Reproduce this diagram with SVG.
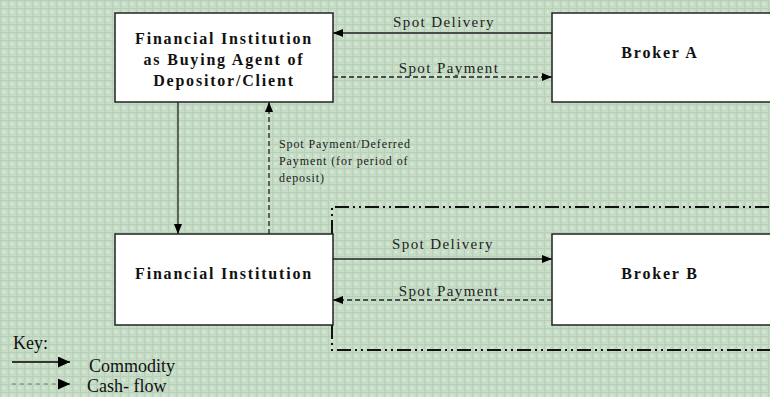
<svg xmlns="http://www.w3.org/2000/svg" width="770" height="397" viewBox="0 0 770 397">
  <defs>
    <pattern id="bg" width="8" height="8" patternUnits="userSpaceOnUse">
      <rect width="8" height="8" fill="#c6dcc6"/>
      <path d="M0 0.5H8M0.5 0V8" stroke="#b6d1b7" stroke-width="1"/>
      <path d="M4 2.5V5.5M2.5 4H5.5" stroke="#e0ede0" stroke-width="1"/>
    </pattern>
    <marker id="ah" viewBox="0 0 10 8" refX="10" refY="4" markerWidth="10" markerHeight="8" markerUnits="userSpaceOnUse" orient="auto">
      <path d="M0 0L10 4L0 8Z" fill="#000"/>
    </marker>
    <marker id="ahk" viewBox="0 0 12 11" refX="12" refY="5.5" markerWidth="12" markerHeight="11" markerUnits="userSpaceOnUse" orient="auto">
      <path d="M0 0L12 5.5L0 11Z" fill="#000"/>
    </marker>
  </defs>
  <style>
    .box { fill: #fff; stroke: #222; stroke-width: 1.5; }
    .lbl { font-family: "Liberation Serif", serif; font-weight: bold; font-size: 16px; letter-spacing: 1.8px; fill: #111; text-anchor: middle; }
    .elbl { font-family: "Liberation Serif", serif; font-size: 15px; letter-spacing: 1.4px; fill: #222; text-anchor: middle; }
    .note { font-family: "Liberation Serif", serif; font-size: 12px; letter-spacing: 0.9px; fill: #222; }
    .key { font-family: "Liberation Serif", serif; font-size: 18px; fill: #111; }
    .solid { stroke: #222; stroke-width: 1.3; fill: none; }
    .dash { stroke: #222; stroke-width: 1.3; fill: none; stroke-dasharray: 5 3; }
  </style>

  <rect width="770" height="397" fill="url(#bg)"/>

  <!-- dash-dot enclosure around Broker B -->
  <g id="enclosure">
    <path d="M332 234V207H770M332 325V350H770" fill="none" stroke="#111" stroke-width="2" stroke-dasharray="14 4 2 4 2 4"/>
  </g>

  <g id="connectors">
    <path class="solid" d="M552 33H333" marker-end="url(#ah)"/>
    <path class="dash" d="M333 77H552" marker-end="url(#ah)"/>
    <path class="solid" d="M178 102V234" marker-end="url(#ah)"/>
    <path class="dash" d="M269 234V102" marker-end="url(#ah)"/>
    <path class="solid" d="M333 259H552" marker-end="url(#ah)"/>
    <path class="dash" d="M552 300H333" marker-end="url(#ah)"/>
    <text class="elbl" x="444" y="27">Spot Delivery</text>
    <text class="elbl" x="449" y="73">Spot Payment</text>
    <text class="elbl" x="443" y="249">Spot Delivery</text>
    <text class="elbl" x="449" y="296">Spot Payment</text>
    <text class="note" x="279" y="148">Spot Payment/Deferred</text>
    <text class="note" x="279" y="165">Payment (for period of</text>
    <text class="note" x="279" y="182">deposit)</text>
  </g>

  <g id="fi-agent">
    <rect class="box" x="115" y="13" width="218" height="89"/>
    <text class="lbl" x="224" y="44">Financial Institution</text>
    <text class="lbl" x="224" y="65">as Buying Agent of</text>
    <text class="lbl" x="224" y="86">Depositor/Client</text>
  </g>

  <g id="broker-a">
    <rect class="box" x="552" y="13" width="220" height="89"/>
    <text class="lbl" x="660" y="58">Broker A</text>
  </g>

  <g id="fi">
    <rect class="box" x="115" y="234" width="218" height="91"/>
    <text class="lbl" x="224" y="279">Financial Institution</text>
  </g>

  <g id="broker-b">
    <rect class="box" x="552" y="234" width="220" height="91"/>
    <text class="lbl" x="660" y="279">Broker B</text>
  </g>

  <g id="key">
    <text class="key" x="13" y="349">Key:</text>
    <path d="M12 362H70" stroke="#000" stroke-width="1.6" marker-end="url(#ahk)"/>
    <text class="key" x="89" y="372">Commodity</text>
    <path d="M12 384H58" stroke="#666" stroke-width="0.8" stroke-dasharray="4 4"/>
    <path d="M58 384H70" stroke="#000" stroke-width="1" marker-end="url(#ahk)"/>
    <text class="key" x="87" y="392">Cash- flow</text>
  </g>
</svg>
